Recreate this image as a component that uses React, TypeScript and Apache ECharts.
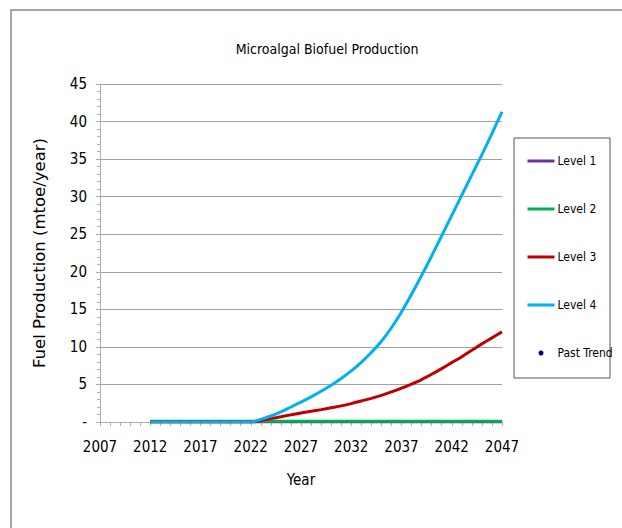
import React, { useEffect, useRef } from "react";
import * as echarts from "echarts";

const years: string[] = [];
for (let y = 2007; y <= 2047; y++) years.push(String(y));

const pre = [null, null, null, null, null];
// values for 2012..2047
const level1 = [...pre, 0, 0, 0, 0, 0, 0, 0, 0, 0, 0, 0, 0, 0, 0, 0, 0, 0, 0, 0, 0, 0, 0, 0, 0, 0, 0, 0, 0, 0, 0, 0, 0, 0, 0, 0, 0];
const level2 = [...pre, 0.1, 0.1, 0.1, 0.1, 0.1, 0.1, 0.1, 0.1, 0.1, 0.1, 0.1, 0.1, 0.1, 0.1, 0.1, 0.1, 0.1, 0.1, 0.1, 0.1, 0.1, 0.1, 0.1, 0.1, 0.1, 0.1, 0.1, 0.1, 0.1, 0.1, 0.1, 0.1, 0.1, 0.1, 0.1, 0.1];
const level3 = [...pre, 0, 0, 0, 0, 0, 0, 0, 0, 0, 0, 0, 0.2, 0.45, 0.7, 0.95, 1.2, 1.42, 1.65, 1.9, 2.15, 2.45, 2.8, 3.15, 3.55, 4.0, 4.5, 5.05, 5.65, 6.35, 7.1, 7.9, 8.7, 9.55, 10.4, 11.2, 12.0];
const level4 = [...pre, 0, 0, 0, 0, 0, 0, 0, 0, 0, 0, 0, 0.35, 0.8, 1.35, 2.0, 2.65, 3.35, 4.1, 4.9, 5.8, 6.8, 7.95, 9.25, 10.75, 12.55, 14.65, 17.0, 19.5, 22.1, 24.8, 27.5, 30.2, 32.9, 35.6, 38.4, 41.3];
const pastTrend: number[] = [];

const NARROW = "'Liberation Sans Narrow', 'DejaVu Sans Condensed', 'Liberation Sans', sans-serif";

export default function App() {
  const ref = useRef<HTMLDivElement>(null);
  useEffect(() => {
    if (!ref.current) return;
    const chart = echarts.init(ref.current, null, { renderer: "svg" });
    const lineSeries = (name: string, data: (number | null)[], color: string) => ({
      name,
      type: "line",
      data,
      symbol: "none",
      smooth: 0.3,
      lineStyle: { color, width: 3 },
      itemStyle: { color },
    });
    chart.setOption({
      animation: false,
      backgroundColor: "#ffffff",
      title: {
        text: "Microalgal Biofuel Production",
        left: 322,
        top: 37,
        textAlign: "center",
        textStyle: { fontFamily: NARROW, fontSize: 14, fontWeight: "normal", color: "#000" },
      },
      graphic: [
        {
          type: "rect",
          shape: { x: 11, y: 10, width: 640, height: 560 },
          style: { fill: "none", stroke: "#888", lineWidth: 1.5 },
          silent: true,
        },
        {
          type: "rect",
          shape: { x: 514, y: 138, width: 96, height: 240 },
          style: { fill: "#fff", stroke: "#555", lineWidth: 1 },
          silent: true,
          z: 0,
        },
      ],
      legend: {
        orient: "vertical",
        left: 526,
        top: 155,
        padding: 0,
        itemWidth: 27,
        itemHeight: 5,
        itemGap: 36,
        z: 10,
        itemStyle: { opacity: 0 },
        lineStyle: { width: 3 },
        textStyle: { fontFamily: NARROW, fontSize: 12, color: "#000", padding: [0, 0, 0, -2] },
        data: [
          { name: "Level 1" },
          { name: "Level 2" },
          { name: "Level 3" },
          { name: "Level 4" },
          { name: "Past Trend", icon: "circle", itemStyle: { opacity: 1, color: "#000080" } },
        ],
      },
      grid: { left: 100, right: 120, top: 84, bottom: 106, containLabel: false },
      xAxis: {
        type: "category",
        data: years,
        boundaryGap: false,
        name: "Year",
        nameLocation: "middle",
        nameGap: 50,
        nameTextStyle: { fontFamily: NARROW, fontSize: 15, color: "#000" },
        axisLine: { lineStyle: { color: "#b0b0b0", width: 1 } },
        axisTick: { show: true, interval: 0, length: 4, lineStyle: { color: "#b0b0b0" } },
        axisLabel: { interval: 4, fontFamily: NARROW, fontSize: 15, color: "#000", margin: 17 },
        splitLine: { show: false },
      },
      yAxis: {
        type: "value",
        min: 0,
        max: 45,
        interval: 5,
        name: "Fuel Production (mtoe/year)",
        nameLocation: "middle",
        nameGap: 52,
        nameTextStyle: { fontFamily: "'DejaVu Sans', sans-serif", fontSize: 16.5, color: "#000" },
        axisLine: { show: true, lineStyle: { color: "#b0b0b0", width: 1 } },
        axisTick: { show: true, length: 4, lineStyle: { color: "#b0b0b0" } },
        minorTick: { show: true, splitNumber: 5, length: 3, lineStyle: { color: "#b0b0b0" } },
        axisLabel: {
          fontFamily: NARROW,
          fontSize: 15,
          color: "#000",
          margin: 13,
          formatter: (v: number) => (v === 0 ? "-" : String(v)),
        },
        splitLine: { show: true, lineStyle: { color: "#a0a0a0", width: 1 } },
      },
      series: [
        lineSeries("Level 1", level1, "#7030A0"),
        lineSeries("Level 2", level2, "#00B050"),
        lineSeries("Level 3", level3, "#C00000"),
        lineSeries("Level 4", level4, "#00B0F0"),
        { name: "Past Trend", type: "scatter", data: pastTrend, symbolSize: 5, itemStyle: { color: "#000080" } },
      ],
    });
    return () => chart.dispose();
  }, []);
  return <div ref={ref} style={{ position: "fixed", left: 0, top: 0, width: 622, height: 528 }} />;
}
